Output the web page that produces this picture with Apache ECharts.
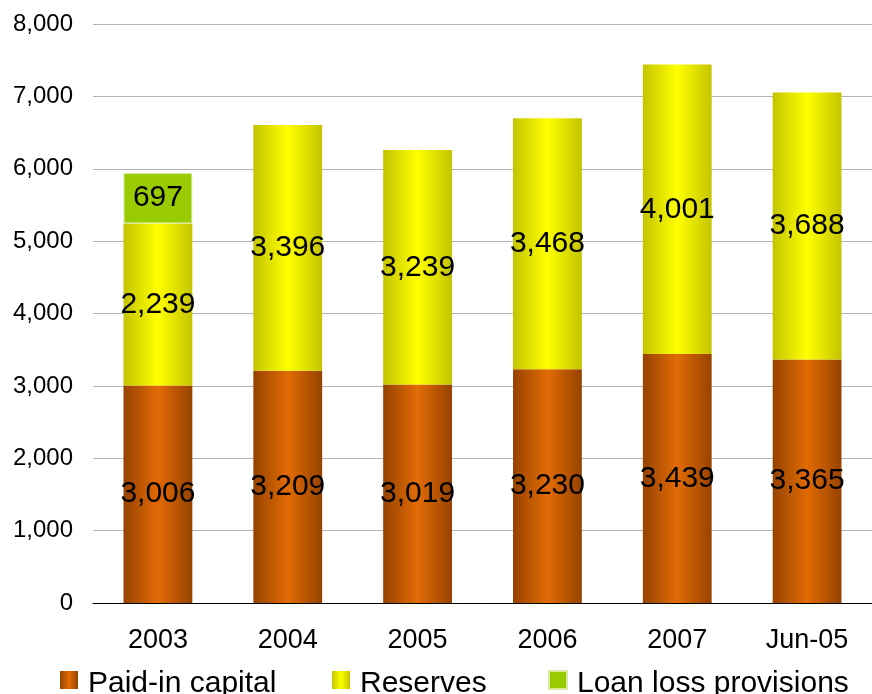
<!DOCTYPE html>
<html>
<head>
<meta charset="utf-8">
<script src="https://cdn.jsdelivr.net/npm/echarts@6/dist/echarts.min.js"></script>
<style>
  html, body { margin: 0; padding: 0; background: #fff; }
  #chart { width: 872px; height: 694px; }
</style>
</head>
<body>
<div id="chart"></div>
<script>
// Capital structure by period (millions)
const categories = ['2003', '2004', '2005', '2006', '2007', 'Jun-05'];
const paidInCapital = [3006, 3209, 3019, 3230, 3439, 3365];
const reserves = [2239, 3396, 3239, 3468, 4001, 3688];
const loanLossProvisions = [697, null, null, null, null, null];
const seriesNames = ['Paid-in capital', 'Reserves', 'Loan loss provisions'];
const yTicks = { min: 0, max: 8000, interval: 1000 };

const FONT = '"Liberation Sans", Arial, sans-serif';

function barGradient(edge, center) {
  return new echarts.graphic.LinearGradient(0, 0, 1, 0, [
    { offset: 0, color: edge },
    { offset: 0.5, color: center },
    { offset: 1, color: edge }
  ]);
}

const fmt = v => Number(v).toLocaleString('en-US');

const labelStyle = {
  show: true,
  position: 'inside',
  color: '#000',
  fontFamily: FONT,
  fontSize: 30,
  formatter: p => fmt(p.value)
};

// square swatch sitting in the upper part of a taller icon box,
// so it lines up with the cap height of the legend text
const legendIcon = 'path://M0,0L18,0L18,18L0,18Z M0,26L0,26';

// one legend entry per component so each sits at its own x position
const legendLefts = [60, 332, 548];
const legends = seriesNames.map((name, i) => ({
  data: [name],
  left: legendLefts[i],
  top: 669,
  padding: 0,
  itemWidth: 18,
  itemHeight: 26,
  icon: legendIcon,
  textStyle: { color: '#000', fontFamily: FONT, fontSize: 30, padding: [0, 0, 0, 5] }
}));

const chart = echarts.init(document.getElementById('chart'), null, { renderer: 'canvas' });

chart.setOption({
  animation: false,
  backgroundColor: '#fff',
  grid: { left: 93, right: 0, top: 24, bottom: 91, containLabel: false },
  xAxis: {
    type: 'category',
    data: categories,
    axisLine: { lineStyle: { color: '#000', width: 1 } },
    axisTick: { show: false },
    axisLabel: { color: '#000', fontFamily: FONT, fontSize: 27, margin: 24 }
  },
  yAxis: {
    type: 'value',
    min: yTicks.min,
    max: yTicks.max,
    interval: yTicks.interval,
    axisLine: { show: false },
    axisTick: { show: false },
    splitLine: { lineStyle: { color: '#b4b4b4', width: 1 } },
    axisLabel: { color: '#000', fontFamily: FONT, fontSize: 24, margin: 20, formatter: v => fmt(v) }
  },
  legend: legends,
  series: [
    {
      name: seriesNames[0],
      type: 'bar',
      stack: 'total',
      barWidth: '53%',
      data: paidInCapital,
      itemStyle: { color: barGradient('#964300', '#e26b05') },
      label: labelStyle
    },
    {
      name: seriesNames[1],
      type: 'bar',
      stack: 'total',
      data: reserves,
      itemStyle: { color: barGradient('#c4c400', '#ffff00') },
      label: labelStyle
    },
    {
      name: seriesNames[2],
      type: 'bar',
      stack: 'total',
      data: loanLossProvisions,
      itemStyle: { color: '#99cc00', borderColor: '#d8eca0', borderWidth: 1 },
      label: labelStyle
    }
  ]
});
</script>
</body>
</html>
